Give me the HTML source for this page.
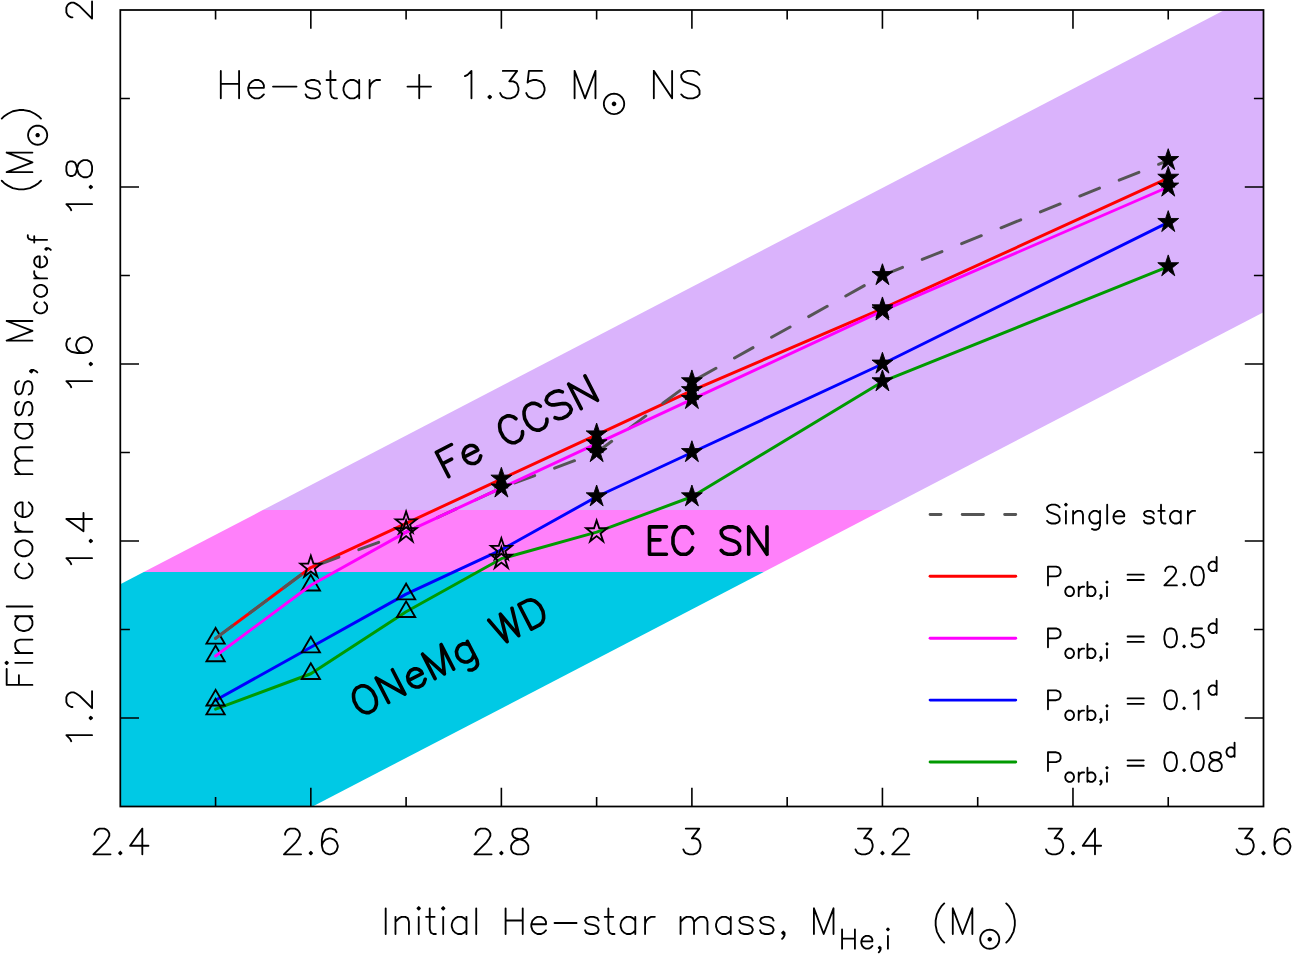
<!DOCTYPE html>
<html lang="en"><head><meta charset="utf-8"><title>Final core mass vs initial He-star mass</title>
<style>
html,body{margin:0;padding:0;background:#fff;}
body{width:1293px;height:955px;overflow:hidden;font-family:"Liberation Sans",sans-serif;}
svg{display:block;}
.t,.b,.ln{fill:none;stroke-linecap:round;stroke-linejoin:round;}
.t{stroke:#000;stroke-width:1.85;}
.b{stroke:#000;stroke-width:3.6;}
.ln{stroke-width:2.95;}
.h{font-family:"Liberation Sans",sans-serif;fill:#000;fill-opacity:0;stroke:none;}
</style></head><body>
<svg width="1293" height="955" viewBox="0 0 1293 955" role="img" aria-label="Final core mass versus initial He-star mass">
<rect width="1293" height="955" fill="#fff"/>
<polygon points="262.8,510.1 1224.5,10 1263.5,10 1263.5,312.2 882.79,510.1" fill="#dab3fc"/>
<polygon points="143.76,572 262.8,510.1 882.79,510.1 763.71,572" fill="#ff80fa"/>
<polygon points="120.3,584.2 143.76,572 763.71,572 312.6,806.5 120.3,806.5" fill="#00c9e5"/>
<g id="lines-a">
<polyline class="ln" points="215.57,700.3 310.83,647.2 406.1,594.1 501.37,549.85 596.63,496.75 691.9,452.5 882.43,364 1168.23,222.4" stroke="#0000ff"/>
<polyline class="ln" points="215.57,709.15 310.83,673.75 406.1,611.8 501.37,558.7 596.63,532.15 691.9,496.75 882.43,381.7 1168.23,266.65" stroke="#009a00"/>
</g>
<g id="markers-wd">
<polygon points="215.57,627.91 206.43,643.57 224.71,643.57" fill="none" stroke="#000" stroke-width="1.85" stroke-linejoin="miter" stroke-miterlimit="6"/>
<polygon points="215.57,645.61 206.43,661.27 224.71,661.27" fill="none" stroke="#000" stroke-width="1.85" stroke-linejoin="miter" stroke-miterlimit="6"/>
<polygon points="310.83,574.81 301.69,590.47 319.97,590.47" fill="none" stroke="#000" stroke-width="1.85" stroke-linejoin="miter" stroke-miterlimit="6"/>
<polygon points="215.57,689.86 206.43,705.52 224.71,705.52" fill="none" stroke="#000" stroke-width="1.85" stroke-linejoin="miter" stroke-miterlimit="6"/>
<polygon points="310.83,636.76 301.69,652.42 319.97,652.42" fill="none" stroke="#000" stroke-width="1.85" stroke-linejoin="miter" stroke-miterlimit="6"/>
<polygon points="406.1,583.66 396.96,599.32 415.24,599.32" fill="none" stroke="#000" stroke-width="1.85" stroke-linejoin="miter" stroke-miterlimit="6"/>
<polygon points="215.57,698.71 206.43,714.37 224.71,714.37" fill="none" stroke="#000" stroke-width="1.85" stroke-linejoin="miter" stroke-miterlimit="6"/>
<polygon points="310.83,663.31 301.69,678.97 319.97,678.97" fill="none" stroke="#000" stroke-width="1.85" stroke-linejoin="miter" stroke-miterlimit="6"/>
<polygon points="406.1,601.36 396.96,617.02 415.24,617.02" fill="none" stroke="#000" stroke-width="1.85" stroke-linejoin="miter" stroke-miterlimit="6"/>
</g>
<g id="lines-b">
<polyline class="ln" points="215.57,638.35 310.83,567.55 406.1,523.3 501.37,479.05 596.63,434.8 691.9,390.55 882.43,308.69 1168.23,178.15" stroke="#ff0000"/>
<polyline class="ln" points="215.57,638.35 310.83,567.55 406.1,532.15 501.37,487.9 596.63,452.5 691.9,381.7 882.43,275.5 1168.23,160.45" stroke="#555555" stroke-dasharray="21.23 21.23"/>
<polyline class="ln" points="215.57,656.05 310.83,585.25 406.1,532.15 501.37,487.9 596.63,443.65 691.9,399.4 882.43,310.9 1168.23,187" stroke="#ff00ff"/>
</g>
<g id="markers-ecsn">
<polygon points="310.83,555.8 308.22,563.63 300.39,563.63 306.92,568.86 304.31,576.69 310.83,571.47 317.36,576.69 314.75,568.86 321.28,563.63 313.44,563.63" fill="none" stroke="#000" stroke-width="1.85" stroke-linejoin="miter" stroke-miterlimit="6"/>
<polygon points="406.1,511.55 403.49,519.38 395.66,519.38 402.18,524.61 399.57,532.44 406.1,527.22 412.63,532.44 410.02,524.61 416.54,519.38 408.71,519.38" fill="none" stroke="#000" stroke-width="1.85" stroke-linejoin="miter" stroke-miterlimit="6"/>
<polygon points="406.1,520.4 403.49,528.23 395.66,528.23 402.18,533.46 399.57,541.29 406.1,536.07 412.63,541.29 410.02,533.46 416.54,528.23 408.71,528.23" fill="none" stroke="#000" stroke-width="1.85" stroke-linejoin="miter" stroke-miterlimit="6"/>
<polygon points="501.37,538.1 498.76,545.93 490.92,545.93 497.45,551.16 494.84,558.99 501.37,553.77 507.89,558.99 505.28,551.16 511.81,545.93 503.98,545.93" fill="none" stroke="#000" stroke-width="1.85" stroke-linejoin="miter" stroke-miterlimit="6"/>
<polygon points="501.37,546.95 498.76,554.78 490.92,554.78 497.45,560.01 494.84,567.84 501.37,562.62 507.89,567.84 505.28,560.01 511.81,554.78 503.98,554.78" fill="none" stroke="#000" stroke-width="1.85" stroke-linejoin="miter" stroke-miterlimit="6"/>
<polygon points="596.63,520.4 594.02,528.23 586.19,528.23 592.72,533.46 590.11,541.29 596.63,536.07 603.16,541.29 600.55,533.46 607.08,528.23 599.24,528.23" fill="none" stroke="#000" stroke-width="1.85" stroke-linejoin="miter" stroke-miterlimit="6"/>
</g>
<g id="markers-ccsn">
<polygon points="501.37,467.3 498.76,475.13 490.92,475.13 497.45,480.36 494.84,488.19 501.37,482.97 507.89,488.19 505.28,480.36 511.81,475.13 503.98,475.13" fill="#000" stroke="#000" stroke-width="0.9" stroke-linejoin="miter"/>
<polygon points="596.63,423.05 594.02,430.88 586.19,430.88 592.72,436.11 590.11,443.94 596.63,438.72 603.16,443.94 600.55,436.11 607.08,430.88 599.24,430.88" fill="#000" stroke="#000" stroke-width="0.9" stroke-linejoin="miter"/>
<polygon points="691.9,378.8 689.29,386.63 681.46,386.63 687.98,391.86 685.37,399.69 691.9,394.47 698.43,399.69 695.82,391.86 702.34,386.63 694.51,386.63" fill="#000" stroke="#000" stroke-width="0.9" stroke-linejoin="miter"/>
<polygon points="882.43,296.94 879.82,304.77 871.99,304.77 878.52,309.99 875.91,317.83 882.43,312.6 888.96,317.83 886.35,309.99 892.88,304.77 885.04,304.77" fill="#000" stroke="#000" stroke-width="0.9" stroke-linejoin="miter"/>
<polygon points="1168.23,166.4 1165.62,174.23 1157.79,174.23 1164.32,179.46 1161.71,187.29 1168.23,182.07 1174.76,187.29 1172.15,179.46 1178.68,174.23 1170.84,174.23" fill="#000" stroke="#000" stroke-width="0.9" stroke-linejoin="miter"/>
<polygon points="501.37,476.15 498.76,483.98 490.92,483.98 497.45,489.21 494.84,497.04 501.37,491.82 507.89,497.04 505.28,489.21 511.81,483.98 503.98,483.98" fill="#000" stroke="#000" stroke-width="0.9" stroke-linejoin="miter"/>
<polygon points="596.63,440.75 594.02,448.58 586.19,448.58 592.72,453.81 590.11,461.64 596.63,456.42 603.16,461.64 600.55,453.81 607.08,448.58 599.24,448.58" fill="#000" stroke="#000" stroke-width="0.9" stroke-linejoin="miter"/>
<polygon points="691.9,369.95 689.29,377.78 681.46,377.78 687.98,383.01 685.37,390.84 691.9,385.62 698.43,390.84 695.82,383.01 702.34,377.78 694.51,377.78" fill="#000" stroke="#000" stroke-width="0.9" stroke-linejoin="miter"/>
<polygon points="882.43,263.75 879.82,271.58 871.99,271.58 878.52,276.81 875.91,284.64 882.43,279.42 888.96,284.64 886.35,276.81 892.88,271.58 885.04,271.58" fill="#000" stroke="#000" stroke-width="0.9" stroke-linejoin="miter"/>
<polygon points="1168.23,148.7 1165.62,156.53 1157.79,156.53 1164.32,161.76 1161.71,169.59 1168.23,164.37 1174.76,169.59 1172.15,161.76 1178.68,156.53 1170.84,156.53" fill="#000" stroke="#000" stroke-width="0.9" stroke-linejoin="miter"/>
<polygon points="596.63,431.9 594.02,439.73 586.19,439.73 592.72,444.96 590.11,452.79 596.63,447.57 603.16,452.79 600.55,444.96 607.08,439.73 599.24,439.73" fill="#000" stroke="#000" stroke-width="0.9" stroke-linejoin="miter"/>
<polygon points="691.9,387.65 689.29,395.48 681.46,395.48 687.98,400.71 685.37,408.54 691.9,403.32 698.43,408.54 695.82,400.71 702.34,395.48 694.51,395.48" fill="#000" stroke="#000" stroke-width="0.9" stroke-linejoin="miter"/>
<polygon points="882.43,299.15 879.82,306.98 871.99,306.98 878.52,312.21 875.91,320.04 882.43,314.82 888.96,320.04 886.35,312.21 892.88,306.98 885.04,306.98" fill="#000" stroke="#000" stroke-width="0.9" stroke-linejoin="miter"/>
<polygon points="1168.23,175.25 1165.62,183.08 1157.79,183.08 1164.32,188.31 1161.71,196.14 1168.23,190.92 1174.76,196.14 1172.15,188.31 1178.68,183.08 1170.84,183.08" fill="#000" stroke="#000" stroke-width="0.9" stroke-linejoin="miter"/>
<polygon points="596.63,485 594.02,492.83 586.19,492.83 592.72,498.06 590.11,505.89 596.63,500.67 603.16,505.89 600.55,498.06 607.08,492.83 599.24,492.83" fill="#000" stroke="#000" stroke-width="0.9" stroke-linejoin="miter"/>
<polygon points="691.9,440.75 689.29,448.58 681.46,448.58 687.98,453.81 685.37,461.64 691.9,456.42 698.43,461.64 695.82,453.81 702.34,448.58 694.51,448.58" fill="#000" stroke="#000" stroke-width="0.9" stroke-linejoin="miter"/>
<polygon points="882.43,352.25 879.82,360.08 871.99,360.08 878.52,365.31 875.91,373.14 882.43,367.92 888.96,373.14 886.35,365.31 892.88,360.08 885.04,360.08" fill="#000" stroke="#000" stroke-width="0.9" stroke-linejoin="miter"/>
<polygon points="1168.23,210.65 1165.62,218.48 1157.79,218.48 1164.32,223.71 1161.71,231.54 1168.23,226.32 1174.76,231.54 1172.15,223.71 1178.68,218.48 1170.84,218.48" fill="#000" stroke="#000" stroke-width="0.9" stroke-linejoin="miter"/>
<polygon points="691.9,485 689.29,492.83 681.46,492.83 687.98,498.06 685.37,505.89 691.9,500.67 698.43,505.89 695.82,498.06 702.34,492.83 694.51,492.83" fill="#000" stroke="#000" stroke-width="0.9" stroke-linejoin="miter"/>
<polygon points="882.43,369.95 879.82,377.78 871.99,377.78 878.52,383.01 875.91,390.84 882.43,385.62 888.96,390.84 886.35,383.01 892.88,377.78 885.04,377.78" fill="#000" stroke="#000" stroke-width="0.9" stroke-linejoin="miter"/>
<polygon points="1168.23,254.9 1165.62,262.73 1157.79,262.73 1164.32,267.96 1161.71,275.79 1168.23,270.57 1174.76,275.79 1172.15,267.96 1178.68,262.73 1170.84,262.73" fill="#000" stroke="#000" stroke-width="0.9" stroke-linejoin="miter"/>
</g>
<path d="M215.57 806.5V796.9M215.57 10V19.6M310.83 806.5V787.8M310.83 10V28.7M406.1 806.5V796.9M406.1 10V19.6M501.37 806.5V787.8M501.37 10V28.7M596.63 806.5V796.9M596.63 10V19.6M691.9 806.5V787.8M691.9 10V28.7M787.17 806.5V796.9M787.17 10V19.6M882.43 806.5V787.8M882.43 10V28.7M977.7 806.5V796.9M977.7 10V19.6M1072.97 806.5V787.8M1072.97 10V28.7M1168.23 806.5V796.9M1168.23 10V19.6M120.3 718H139M1263.5 718H1244.8M120.3 629.5H129.9M1263.5 629.5H1253.9M120.3 541H139M1263.5 541H1244.8M120.3 452.5H129.9M1263.5 452.5H1253.9M120.3 364H139M1263.5 364H1244.8M120.3 275.5H129.9M1263.5 275.5H1253.9M120.3 187H139M1263.5 187H1244.8M120.3 98.5H129.9M1263.5 98.5H1253.9" fill="none" stroke="#000" stroke-width="1.6" stroke-linecap="butt"/>
<rect x="120.3" y="10" width="1143.2" height="796.5" fill="none" stroke="#000" stroke-width="1.75"/>
<g id="tick-labels">
<g aria-label="2.4"><path class="t" d="M94.61 834.72 L94.61 833.5 L95.83 831.05 L97.05 829.83 L99.5 828.61 L104.39 828.61 L106.84 829.83 L108.06 831.05 L109.29 833.5 L109.29 835.95 L108.06 838.39 L105.62 842.06 L93.38 854.3 L110.51 854.3M120.3 851.85 L119.08 853.08 L120.3 854.3 L121.52 853.08 L120.3 851.85M142.32 828.61 L130.09 845.74 L148.44 845.74M142.32 828.61 L142.32 854.3"/><text class="h" x="89.71" y="854.3" font-size="35.24">2.4</text></g>
<g aria-label="2.6"><path class="t" d="M285.14 834.72 L285.14 833.5 L286.36 831.05 L287.59 829.83 L290.03 828.61 L294.93 828.61 L297.37 829.83 L298.6 831.05 L299.82 833.5 L299.82 835.95 L298.6 838.39 L296.15 842.06 L283.92 854.3 L301.05 854.3M310.83 851.85 L309.61 853.08 L310.83 854.3 L312.06 853.08 L310.83 851.85M336.53 832.28 L335.3 829.83 L331.63 828.61 L329.19 828.61 L325.52 829.83 L323.07 833.5 L321.84 839.62 L321.84 845.74 L323.07 850.63 L325.52 853.08 L329.19 854.3 L330.41 854.3 L334.08 853.08 L336.53 850.63 L337.75 846.96 L337.75 845.74 L336.53 842.06 L334.08 839.62 L330.41 838.39 L329.19 838.39 L325.52 839.62 L323.07 842.06 L321.84 845.74"/><text class="h" x="280.25" y="854.3" font-size="35.24">2.6</text></g>
<g aria-label="2.8"><path class="t" d="M475.67 834.72 L475.67 833.5 L476.9 831.05 L478.12 829.83 L480.57 828.61 L485.46 828.61 L487.91 829.83 L489.13 831.05 L490.36 833.5 L490.36 835.95 L489.13 838.39 L486.68 842.06 L474.45 854.3 L491.58 854.3M501.37 851.85 L500.14 853.08 L501.37 854.3 L502.59 853.08 L501.37 851.85M517.27 828.61 L513.6 829.83 L512.38 832.28 L512.38 834.72 L513.6 837.17 L516.05 838.39 L520.94 839.62 L524.61 840.84 L527.06 843.29 L528.28 845.74 L528.28 849.41 L527.06 851.85 L525.84 853.08 L522.17 854.3 L517.27 854.3 L513.6 853.08 L512.38 851.85 L511.15 849.41 L511.15 845.74 L512.38 843.29 L514.83 840.84 L518.5 839.62 L523.39 838.39 L525.84 837.17 L527.06 834.72 L527.06 832.28 L525.84 829.83 L522.17 828.61 L517.27 828.61"/><text class="h" x="470.78" y="854.3" font-size="35.24">2.8</text></g>
<g aria-label="3"><path class="t" d="M685.78 828.61 L699.24 828.61 L691.9 838.39 L695.57 838.39 L698.02 839.62 L699.24 840.84 L700.46 844.51 L700.46 846.96 L699.24 850.63 L696.79 853.08 L693.12 854.3 L689.45 854.3 L685.78 853.08 L684.56 851.85 L683.34 849.41"/><text class="h" x="679.67" y="854.3" font-size="35.24">3</text></g>
<g aria-label="3.2"><path class="t" d="M857.96 828.61 L871.42 828.61 L864.08 838.39 L867.75 838.39 L870.2 839.62 L871.42 840.84 L872.65 844.51 L872.65 846.96 L871.42 850.63 L868.97 853.08 L865.3 854.3 L861.63 854.3 L857.96 853.08 L856.74 851.85 L855.52 849.41M882.43 851.85 L881.21 853.08 L882.43 854.3 L883.66 853.08 L882.43 851.85M893.44 834.72 L893.44 833.5 L894.67 831.05 L895.89 829.83 L898.34 828.61 L903.23 828.61 L905.68 829.83 L906.9 831.05 L908.13 833.5 L908.13 835.95 L906.9 838.39 L904.46 842.06 L892.22 854.3 L909.35 854.3"/><text class="h" x="851.85" y="854.3" font-size="35.24">3.2</text></g>
<g aria-label="3.4"><path class="t" d="M1048.5 828.61 L1061.96 828.61 L1054.61 838.39 L1058.28 838.39 L1060.73 839.62 L1061.96 840.84 L1063.18 844.51 L1063.18 846.96 L1061.96 850.63 L1059.51 853.08 L1055.84 854.3 L1052.17 854.3 L1048.5 853.08 L1047.27 851.85 L1046.05 849.41M1072.97 851.85 L1071.74 853.08 L1072.97 854.3 L1074.19 853.08 L1072.97 851.85M1094.99 828.61 L1082.75 845.74 L1101.11 845.74M1094.99 828.61 L1094.99 854.3"/><text class="h" x="1042.38" y="854.3" font-size="35.24">3.4</text></g>
<g aria-label="3.6"><path class="t" d="M1239.03 828.61 L1252.49 828.61 L1245.15 838.39 L1248.82 838.39 L1251.27 839.62 L1252.49 840.84 L1253.71 844.51 L1253.71 846.96 L1252.49 850.63 L1250.04 853.08 L1246.37 854.3 L1242.7 854.3 L1239.03 853.08 L1237.81 851.85 L1236.58 849.41M1263.5 851.85 L1262.28 853.08 L1263.5 854.3 L1264.72 853.08 L1263.5 851.85M1289.19 832.28 L1287.97 829.83 L1284.3 828.61 L1281.85 828.61 L1278.18 829.83 L1275.74 833.5 L1274.51 839.62 L1274.51 845.74 L1275.74 850.63 L1278.18 853.08 L1281.85 854.3 L1283.08 854.3 L1286.75 853.08 L1289.19 850.63 L1290.42 846.96 L1290.42 845.74 L1289.19 842.06 L1286.75 839.62 L1283.08 838.39 L1281.85 838.39 L1278.18 839.62 L1275.74 842.06 L1274.51 845.74"/><text class="h" x="1232.91" y="854.3" font-size="35.24">3.6</text></g>
<g aria-label="1.2"><path class="t" d="M71.25 741.25 L70.03 738.8 L66.36 735.13 L92.05 735.13M89.6 718 L90.83 719.22 L92.05 718 L90.83 716.78 L89.6 718M72.47 706.99 L71.25 706.99 L68.8 705.77 L67.58 704.54 L66.36 702.09 L66.36 697.2 L67.58 694.75 L68.8 693.53 L71.25 692.31 L73.7 692.31 L76.14 693.53 L79.81 695.98 L92.05 708.21 L92.05 691.08"/><text class="h" x="92.05" y="748.59" font-size="35.24" transform="rotate(-90 92.05 748.59)">1.2</text></g>
<g aria-label="1.4"><path class="t" d="M71.25 564.25 L70.03 561.8 L66.36 558.13 L92.05 558.13M89.6 541 L90.83 542.22 L92.05 541 L90.83 539.78 L89.6 541M66.36 518.98 L83.49 531.21 L83.49 512.86M66.36 518.98 L92.05 518.98"/><text class="h" x="92.05" y="571.59" font-size="35.24" transform="rotate(-90 92.05 571.59)">1.4</text></g>
<g aria-label="1.6"><path class="t" d="M71.25 387.25 L70.03 384.8 L66.36 381.13 L92.05 381.13M89.6 364 L90.83 365.22 L92.05 364 L90.83 362.78 L89.6 364M70.03 338.31 L67.58 339.53 L66.36 343.2 L66.36 345.65 L67.58 349.32 L71.25 351.76 L77.37 352.99 L83.49 352.99 L88.38 351.76 L90.83 349.32 L92.05 345.65 L92.05 344.42 L90.83 340.75 L88.38 338.31 L84.71 337.08 L83.49 337.08 L79.81 338.31 L77.37 340.75 L76.14 344.42 L76.14 345.65 L77.37 349.32 L79.81 351.76 L83.49 352.99"/><text class="h" x="92.05" y="394.59" font-size="35.24" transform="rotate(-90 92.05 394.59)">1.6</text></g>
<g aria-label="1.8"><path class="t" d="M71.25 210.25 L70.03 207.8 L66.36 204.13 L92.05 204.13M89.6 187 L90.83 188.22 L92.05 187 L90.83 185.78 L89.6 187M66.36 171.09 L67.58 174.77 L70.03 175.99 L72.47 175.99 L74.92 174.77 L76.14 172.32 L77.37 167.42 L78.59 163.75 L81.04 161.31 L83.49 160.08 L87.16 160.08 L89.6 161.31 L90.83 162.53 L92.05 166.2 L92.05 171.09 L90.83 174.77 L89.6 175.99 L87.16 177.21 L83.49 177.21 L81.04 175.99 L78.59 173.54 L77.37 169.87 L76.14 164.98 L74.92 162.53 L72.47 161.31 L70.03 161.31 L67.58 162.53 L66.36 166.2 L66.36 171.09"/><text class="h" x="92.05" y="217.59" font-size="35.24" transform="rotate(-90 92.05 217.59)">1.8</text></g>
<g aria-label="2"><path class="t" d="M72.47 17.34 L71.25 17.34 L68.8 16.12 L67.58 14.89 L66.36 12.45 L66.36 7.55 L67.58 5.11 L68.8 3.88 L71.25 2.66 L73.7 2.66 L76.14 3.88 L79.81 6.33 L92.05 18.56 L92.05 1.44"/><text class="h" x="92.05" y="22.24" font-size="35.24" transform="rotate(-90 92.05 22.24)">2</text></g>
</g>
<g id="axis-labels">
<g aria-label="Initial He-star mass, MHe,i (M⊙)"><path class="t" d="M385.69 908.31 L385.69 934M395.48 916.87 L395.48 934M395.48 921.76 L399.15 918.09 L401.6 916.87 L405.27 916.87 L407.72 918.09 L408.94 921.76 L408.94 934M417.5 908.31 L418.73 909.53 L419.95 908.31 L418.73 907.08 L417.5 908.31M418.73 916.87 L418.73 934M429.74 908.31 L429.74 929.11 L430.96 932.78 L433.41 934 L435.86 934M426.07 916.87 L434.63 916.87M441.98 908.31 L443.2 909.53 L444.42 908.31 L443.2 907.08 L441.98 908.31M443.2 916.87 L443.2 934M466.44 916.87 L466.44 934M466.44 920.54 L464 918.09 L461.55 916.87 L457.88 916.87 L455.43 918.09 L452.99 920.54 L451.76 924.21 L451.76 926.66 L452.99 930.33 L455.43 932.78 L457.88 934 L461.55 934 L464 932.78 L466.44 930.33M476.23 908.31 L476.23 934M505.6 908.31 L505.6 934M522.73 908.31 L522.73 934M505.6 920.54 L522.73 920.54M531.29 924.21 L545.97 924.21 L545.97 921.76 L544.75 919.32 L543.53 918.09 L541.08 916.87 L537.41 916.87 L534.96 918.09 L532.51 920.54 L531.29 924.21 L531.29 926.66 L532.51 930.33 L534.96 932.78 L537.41 934 L541.08 934 L543.53 932.78 L545.97 930.33M554.54 922.99 L576.56 922.99M598.58 920.54 L597.36 918.09 L593.69 916.87 L590.02 916.87 L586.35 918.09 L585.12 920.54 L586.35 922.99 L588.8 924.21 L594.91 925.44 L597.36 926.66 L598.58 929.11 L598.58 930.33 L597.36 932.78 L593.69 934 L590.02 934 L586.35 932.78 L585.12 930.33M608.37 908.31 L608.37 929.11 L609.59 932.78 L612.04 934 L614.49 934M604.7 916.87 L613.26 916.87M635.29 916.87 L635.29 934M635.29 920.54 L632.84 918.09 L630.39 916.87 L626.72 916.87 L624.28 918.09 L621.83 920.54 L620.61 924.21 L620.61 926.66 L621.83 930.33 L624.28 932.78 L626.72 934 L630.39 934 L632.84 932.78 L635.29 930.33M645.08 916.87 L645.08 934M645.08 924.21 L646.3 920.54 L648.75 918.09 L651.19 916.87 L654.86 916.87M680.56 916.87 L680.56 934M680.56 921.76 L684.23 918.09 L686.67 916.87 L690.35 916.87 L692.79 918.09 L694.02 921.76 L694.02 934M694.02 921.76 L697.69 918.09 L700.13 916.87 L703.8 916.87 L706.25 918.09 L707.47 921.76 L707.47 934M730.72 916.87 L730.72 934M730.72 920.54 L728.27 918.09 L725.83 916.87 L722.16 916.87 L719.71 918.09 L717.26 920.54 L716.04 924.21 L716.04 926.66 L717.26 930.33 L719.71 932.78 L722.16 934 L725.83 934 L728.27 932.78 L730.72 930.33M752.74 920.54 L751.52 918.09 L747.85 916.87 L744.18 916.87 L740.51 918.09 L739.29 920.54 L740.51 922.99 L742.96 924.21 L749.07 925.44 L751.52 926.66 L752.74 929.11 L752.74 930.33 L751.52 932.78 L747.85 934 L744.18 934 L740.51 932.78 L739.29 930.33M773.54 920.54 L772.32 918.09 L768.65 916.87 L764.98 916.87 L761.31 918.09 L760.09 920.54 L761.31 922.99 L763.76 924.21 L769.87 925.44 L772.32 926.66 L773.54 929.11 L773.54 930.33 L772.32 932.78 L768.65 934 L764.98 934 L761.31 932.78 L760.09 930.33M784.56 932.78 L783.33 934 L782.11 932.78 L783.33 931.55 L784.56 932.78 L784.56 935.22 L783.33 937.67 L782.11 938.89M813.92 908.31 L813.92 934M813.92 908.31 L823.71 934M833.5 908.31 L823.71 934M833.5 908.31 L833.5 934M842.06 929.41 L842.06 948.68M854.91 929.41 L854.91 948.68M842.06 938.59 L854.91 938.59M861.33 941.34 L872.34 941.34 L872.34 939.51 L871.42 937.67 L870.51 936.75 L868.67 935.84 L865.92 935.84 L864.08 936.75 L862.25 938.59 L861.33 941.34 L861.33 943.18 L862.25 945.93 L864.08 947.76 L865.92 948.68 L868.67 948.68 L870.51 947.76 L872.34 945.93M880.6 947.76 L879.68 948.68 L878.76 947.76 L879.68 946.85 L880.6 947.76 L880.6 949.6 L879.68 951.43 L878.76 952.35M887.02 929.41 L887.94 930.33 L888.86 929.41 L887.94 928.49 L887.02 929.41M887.94 935.84 L887.94 948.68M944.22 903.41 L941.77 905.86 L939.33 909.53 L936.88 914.42 L935.66 920.54 L935.66 925.44 L936.88 931.55 L939.33 936.45 L941.77 940.12 L944.22 942.56M952.79 908.31 L952.79 934M952.79 908.31 L962.57 934M972.36 908.31 L962.57 934M972.36 908.31 L972.36 934M999.28 939.23 L999.16 940.72 L998.81 942.18 L998.24 943.56 L997.46 944.84 L996.48 945.98 L995.35 946.95 L994.07 947.73 L992.68 948.31 L991.23 948.66 L989.74 948.77 L988.24 948.66 L986.79 948.31 L985.4 947.73 L984.13 946.95 L982.99 945.98 L982.02 944.84 L981.23 943.56 L980.66 942.18 L980.31 940.72 L980.19 939.23 L980.31 937.74 L980.66 936.28 L981.23 934.9 L982.02 933.62 L982.99 932.48 L984.13 931.51 L985.4 930.73 L986.79 930.15 L988.24 929.8 L989.74 929.69 L991.23 929.8 L992.68 930.15 L994.07 930.73 L995.35 931.51 L996.48 932.48 L997.46 933.62 L998.24 934.9 L998.81 936.28 L999.16 937.74 L999.28 939.23M991.02 939.23 L990.89 939.79 L990.54 940.23 L990.02 940.48 L989.45 940.48 L988.93 940.23 L988.58 939.79 L988.45 939.23 L988.58 938.67 L988.93 938.23 L989.45 937.98 L990.02 937.98 L990.54 938.23 L990.89 938.67 L991.02 939.23M990.19 939.23 L990.06 939.55 L989.74 939.69 L989.41 939.55 L989.28 939.23 L989.41 938.91 L989.74 938.77 L990.06 938.91 L990.19 939.23M1006.25 903.41 L1008.7 905.86 L1011.15 909.53 L1013.59 914.42 L1014.82 920.54 L1014.82 925.44 L1013.59 931.55 L1011.15 936.45 L1008.7 940.12 L1006.25 942.56"/><text class="h" x="380.8" y="934" font-size="35.24">Initial He-star mass, MHe,i (M⊙)</text></g>
<g aria-label="Final core mass, Mcore,f (M⊙)"><path class="t" d="M6.67 684.9 L32.4 684.9M6.67 684.9 L6.67 668.97M18.92 684.9 L18.92 675.1M6.67 664.07 L7.9 662.85 L6.67 661.62 L5.45 662.85 L6.67 664.07M15.25 662.85 L32.4 662.85M15.25 653.04 L32.4 653.04M20.15 653.04 L16.47 649.37 L15.25 646.92 L15.25 643.24 L16.47 640.79 L20.15 639.57 L32.4 639.57M15.25 616.29 L32.4 616.29M18.92 616.29 L16.47 618.74 L15.25 621.19 L15.25 624.86 L16.47 627.31 L18.92 629.77 L22.6 630.99 L25.05 630.99 L28.72 629.77 L31.17 627.31 L32.4 624.86 L32.4 621.19 L31.17 618.74 L28.72 616.29M6.67 606.49 L32.4 606.49M18.92 563.6 L16.47 566.05 L15.25 568.51 L15.25 572.18 L16.47 574.63 L18.92 577.08 L22.6 578.31 L25.05 578.31 L28.72 577.08 L31.17 574.63 L32.4 572.18 L32.4 568.51 L31.17 566.05 L28.72 563.6M15.25 550.13 L16.47 552.58 L18.92 555.03 L22.6 556.25 L25.05 556.25 L28.72 555.03 L31.17 552.58 L32.4 550.13 L32.4 546.45 L31.17 544 L28.72 541.55 L25.05 540.33 L22.6 540.33 L18.92 541.55 L16.47 544 L15.25 546.45 L15.25 550.13M15.25 531.75 L32.4 531.75M22.6 531.75 L18.92 530.52 L16.47 528.07 L15.25 525.62 L15.25 521.95M22.6 517.05 L22.6 502.34 L20.15 502.34 L17.7 503.57 L16.47 504.79 L15.25 507.25 L15.25 510.92 L16.47 513.37 L18.92 515.82 L22.6 517.05 L25.05 517.05 L28.72 515.82 L31.17 513.37 L32.4 510.92 L32.4 507.25 L31.17 504.79 L28.72 502.34M15.25 474.16 L32.4 474.16M20.15 474.16 L16.47 470.49 L15.25 468.04 L15.25 464.36 L16.47 461.91 L20.15 460.69 L32.4 460.69M20.15 460.69 L16.47 457.01 L15.25 454.56 L15.25 450.89 L16.47 448.44 L20.15 447.21 L32.4 447.21M15.25 423.93 L32.4 423.93M18.92 423.93 L16.47 426.38 L15.25 428.83 L15.25 432.51 L16.47 434.96 L18.92 437.41 L22.6 438.63 L25.05 438.63 L28.72 437.41 L31.17 434.96 L32.4 432.51 L32.4 428.83 L31.17 426.38 L28.72 423.93M18.92 401.88 L16.47 403.1 L15.25 406.78 L15.25 410.45 L16.47 414.13 L18.92 415.36 L21.37 414.13 L22.6 411.68 L23.82 405.55 L25.05 403.1 L27.5 401.88 L28.72 401.88 L31.17 403.1 L32.4 406.78 L32.4 410.45 L31.17 414.13 L28.72 415.36M18.92 381.05 L16.47 382.27 L15.25 385.95 L15.25 389.63 L16.47 393.3 L18.92 394.53 L21.37 393.3 L22.6 390.85 L23.82 384.73 L25.05 382.27 L27.5 381.05 L28.72 381.05 L31.17 382.27 L32.4 385.95 L32.4 389.63 L31.17 393.3 L28.72 394.53M31.17 370.02 L32.4 371.25 L31.17 372.47 L29.95 371.25 L31.17 370.02 L33.63 370.02 L36.08 371.25 L37.3 372.47M6.67 340.62 L32.4 340.62M6.67 340.62 L32.4 330.82M6.67 321.01 L32.4 330.82M6.67 321.01 L32.4 321.01M36.99 302.33 L35.16 304.17 L34.24 306.01 L34.24 308.76 L35.16 310.6 L36.99 312.44 L39.75 313.36 L41.59 313.36 L44.35 312.44 L46.18 310.6 L47.1 308.76 L47.1 306.01 L46.18 304.17 L44.35 302.33M34.24 292.22 L35.16 294.06 L36.99 295.9 L39.75 296.82 L41.59 296.82 L44.35 295.9 L46.18 294.06 L47.1 292.22 L47.1 289.47 L46.18 287.63 L44.35 285.79 L41.59 284.87 L39.75 284.87 L36.99 285.79 L35.16 287.63 L34.24 289.47 L34.24 292.22M34.24 278.44 L47.1 278.44M39.75 278.44 L36.99 277.52 L35.16 275.68 L34.24 273.84 L34.24 271.09M39.75 267.41 L39.75 256.39 L37.91 256.39 L36.08 257.3 L35.16 258.22 L34.24 260.06 L34.24 262.82 L35.16 264.66 L36.99 266.49 L39.75 267.41 L41.59 267.41 L44.35 266.49 L46.18 264.66 L47.1 262.82 L47.1 260.06 L46.18 258.22 L44.35 256.39M46.18 248.12 L47.1 249.03 L46.18 249.95 L45.26 249.03 L46.18 248.12 L48.02 248.12 L49.86 249.03 L50.78 249.95M27.81 235.25 L27.81 237.09 L28.72 238.93 L31.48 239.85 L47.1 239.85M34.24 242.6 L34.24 236.17M1.77 180.73 L4.22 183.18 L7.9 185.63 L12.8 188.08 L18.92 189.31 L23.82 189.31 L29.95 188.08 L34.85 185.63 L38.53 183.18 L40.98 180.73M6.67 172.15 L32.4 172.15M6.67 172.15 L32.4 162.35M6.67 152.55 L32.4 162.35M6.67 152.55 L32.4 152.55M37.64 125.6 L39.13 125.71 L40.59 126.06 L41.98 126.64 L43.25 127.42 L44.4 128.39 L45.37 129.53 L46.15 130.81 L46.73 132.2 L47.08 133.66 L47.19 135.15 L47.08 136.65 L46.73 138.11 L46.15 139.49 L45.37 140.77 L44.4 141.91 L43.25 142.88 L41.98 143.67 L40.59 144.24 L39.13 144.59 L37.64 144.71 L36.14 144.59 L34.68 144.24 L33.3 143.67 L32.02 142.88 L30.88 141.91 L29.91 140.77 L29.12 139.49 L28.55 138.11 L28.2 136.65 L28.08 135.15 L28.2 133.66 L28.55 132.2 L29.12 130.81 L29.91 129.53 L30.88 128.39 L32.02 127.42 L33.3 126.64 L34.68 126.06 L36.14 125.71 L37.64 125.6M37.64 133.87 L38.2 133.99 L38.64 134.35 L38.89 134.87 L38.89 135.44 L38.64 135.95 L38.2 136.31 L37.64 136.44 L37.08 136.31 L36.63 135.95 L36.38 135.44 L36.38 134.87 L36.63 134.35 L37.08 133.99 L37.64 133.87M37.64 134.69 L37.96 134.83 L38.1 135.15 L37.96 135.48 L37.64 135.61 L37.31 135.48 L37.18 135.15 L37.31 134.83 L37.64 134.69M1.77 118.61 L4.22 116.16 L7.9 113.71 L12.8 111.26 L18.92 110.04 L23.82 110.04 L29.95 111.26 L34.85 113.71 L38.53 116.16 L40.98 118.61"/><text class="h" x="32.4" y="689.8" font-size="35.29" transform="rotate(-90 32.4 689.8)">Final core mass, Mcore,f (M⊙)</text></g>
</g>
<g id="title">
<g aria-label="He-star + 1.35 M⊙ NS"><path class="t" d="M220.8 70.88 L220.8 98.3M239.08 70.88 L239.08 98.3M220.8 83.94 L239.08 83.94M248.22 87.86 L263.88 87.86 L263.88 85.24 L262.58 82.63 L261.27 81.33 L258.66 80.02 L254.75 80.02 L252.13 81.33 L249.52 83.94 L248.22 87.86 L248.22 90.47 L249.52 94.38 L252.13 96.99 L254.75 98.3 L258.66 98.3 L261.27 96.99 L263.88 94.38M273.02 86.55 L296.52 86.55M320.02 83.94 L318.71 81.33 L314.8 80.02 L310.88 80.02 L306.97 81.33 L305.66 83.94 L306.97 86.55 L309.58 87.86 L316.1 89.16 L318.71 90.47 L320.02 93.08 L320.02 94.38 L318.71 96.99 L314.8 98.3 L310.88 98.3 L306.97 96.99 L305.66 94.38M330.46 70.88 L330.46 93.08 L331.77 96.99 L334.38 98.3 L336.99 98.3M326.55 80.02 L335.69 80.02M359.19 80.02 L359.19 98.3M359.19 83.94 L356.57 81.33 L353.96 80.02 L350.05 80.02 L347.44 81.33 L344.82 83.94 L343.52 87.86 L343.52 90.47 L344.82 94.38 L347.44 96.99 L350.05 98.3 L353.96 98.3 L356.57 96.99 L359.19 94.38M369.63 80.02 L369.63 98.3M369.63 87.86 L370.93 83.94 L373.55 81.33 L376.16 80.02 L380.07 80.02M419.24 74.8 L419.24 98.3M407.49 86.55 L430.99 86.55M464.93 76.11 L467.54 74.8 L471.46 70.88 L471.46 98.3M489.74 95.69 L488.43 96.99 L489.74 98.3 L491.04 96.99 L489.74 95.69M502.79 70.88 L517.15 70.88 L509.32 81.33 L513.23 81.33 L515.85 82.63 L517.15 83.94 L518.46 87.86 L518.46 90.47 L517.15 94.38 L514.54 96.99 L510.62 98.3 L506.71 98.3 L502.79 96.99 L501.48 95.69 L500.18 93.08M541.96 70.88 L528.9 70.88 L527.59 82.63 L528.9 81.33 L532.82 80.02 L536.73 80.02 L540.65 81.33 L543.26 83.94 L544.57 87.86 L544.57 90.47 L543.26 94.38 L540.65 96.99 L536.73 98.3 L532.82 98.3 L528.9 96.99 L527.59 95.69 L526.29 93.08M574.59 70.88 L574.59 98.3M574.59 70.88 L585.04 98.3M595.48 70.88 L585.04 98.3M595.48 70.88 L595.48 98.3M624.2 103.88 L624.08 105.47 L623.7 107.03 L623.09 108.5 L622.26 109.87 L621.22 111.08 L620 112.12 L618.64 112.95 L617.17 113.57 L615.61 113.94 L614.02 114.06 L612.43 113.94 L610.87 113.57 L609.4 112.95 L608.03 112.12 L606.82 111.08 L605.78 109.87 L604.95 108.5 L604.33 107.03 L603.96 105.47 L603.84 103.88 L603.96 102.29 L604.33 100.73 L604.95 99.26 L605.78 97.9 L606.82 96.68 L608.03 95.64 L609.4 94.81 L610.87 94.2 L612.43 93.82 L614.02 93.7 L615.61 93.82 L617.17 94.2 L618.64 94.81 L620 95.64 L621.22 96.68 L622.26 97.9 L623.09 99.26 L623.7 100.73 L624.08 102.29 L624.2 103.88M615.39 103.88 L615.25 104.48 L614.87 104.95 L614.32 105.22 L613.71 105.22 L613.16 104.95 L612.78 104.48 L612.65 103.88 L612.78 103.29 L613.16 102.81 L613.71 102.54 L614.32 102.54 L614.87 102.81 L615.25 103.29 L615.39 103.88M614.51 103.88 L614.36 104.23 L614.02 104.37 L613.67 104.23 L613.53 103.88 L613.67 103.53 L614.02 103.39 L614.36 103.53 L614.51 103.88M653.84 70.88 L653.84 98.3M653.84 70.88 L672.11 98.3M672.11 70.88 L672.11 98.3M699.53 74.8 L696.92 72.19 L693 70.88 L687.78 70.88 L683.86 72.19 L681.25 74.8 L681.25 77.41 L682.56 80.02 L683.86 81.33 L686.47 82.63 L694.31 85.24 L696.92 86.55 L698.22 87.86 L699.53 90.47 L699.53 94.38 L696.92 96.99 L693 98.3 L687.78 98.3 L683.86 96.99 L681.25 94.38"/><text class="h" x="215.58" y="98.3" font-size="37.6">He-star + 1.35 M⊙ NS</text></g>
</g>
<g id="legend">
<path class="ln" d="M930.1 514.4H1015.7" stroke="#555555" stroke-dasharray="21.23 21.23" stroke-dashoffset="10.35"/>
<g aria-label="Single star"><path class="t" d="M1059.65 507.35 L1057.86 505.56 L1055.16 504.66 L1051.58 504.66 L1048.88 505.56 L1047.09 507.35 L1047.09 509.15 L1047.99 510.94 L1048.88 511.84 L1050.68 512.74 L1056.06 514.53 L1057.86 515.43 L1058.75 516.32 L1059.65 518.12 L1059.65 520.81 L1057.86 522.6 L1055.16 523.5 L1051.58 523.5 L1048.88 522.6 L1047.09 520.81M1065.03 504.66 L1065.93 505.56 L1066.83 504.66 L1065.93 503.77 L1065.03 504.66M1065.93 510.94 L1065.93 523.5M1073.1 510.94 L1073.1 523.5M1073.1 514.53 L1075.8 511.84 L1077.59 510.94 L1080.28 510.94 L1082.07 511.84 L1082.97 514.53 L1082.97 523.5M1100.01 510.94 L1100.01 525.29 L1099.12 527.99 L1098.22 528.88 L1096.43 529.78 L1093.74 529.78 L1091.94 528.88M1100.01 513.63 L1098.22 511.84 L1096.43 510.94 L1093.74 510.94 L1091.94 511.84 L1090.15 513.63 L1089.25 516.32 L1089.25 518.12 L1090.15 520.81 L1091.94 522.6 L1093.74 523.5 L1096.43 523.5 L1098.22 522.6 L1100.01 520.81M1107.19 504.66 L1107.19 523.5M1113.47 516.32 L1124.23 516.32 L1124.23 514.53 L1123.34 512.74 L1122.44 511.84 L1120.64 510.94 L1117.95 510.94 L1116.16 511.84 L1114.37 513.63 L1113.47 516.32 L1113.47 518.12 L1114.37 520.81 L1116.16 522.6 L1117.95 523.5 L1120.64 523.5 L1122.44 522.6 L1124.23 520.81M1153.83 513.63 L1152.94 511.84 L1150.25 510.94 L1147.56 510.94 L1144.86 511.84 L1143.97 513.63 L1144.86 515.43 L1146.66 516.32 L1151.14 517.22 L1152.94 518.12 L1153.83 519.91 L1153.83 520.81 L1152.94 522.6 L1150.25 523.5 L1147.56 523.5 L1144.86 522.6 L1143.97 520.81M1161.01 504.66 L1161.01 519.91 L1161.91 522.6 L1163.7 523.5 L1165.5 523.5M1158.32 510.94 L1164.6 510.94M1180.74 510.94 L1180.74 523.5M1180.74 513.63 L1178.95 511.84 L1177.16 510.94 L1174.47 510.94 L1172.67 511.84 L1170.88 513.63 L1169.98 516.32 L1169.98 518.12 L1170.88 520.81 L1172.67 522.6 L1174.47 523.5 L1177.16 523.5 L1178.95 522.6 L1180.74 520.81M1187.92 510.94 L1187.92 523.5M1187.92 516.32 L1188.82 513.63 L1190.61 511.84 L1192.41 510.94 L1195.1 510.94"/><text class="h" x="1044.4" y="523.5" font-size="25.83">Single star</text></g>
<path class="ln" d="M930.1 576.3H1015.7" stroke="#ff0000"/>
<g aria-label="Porb,i = 2.0d"><path class="t" d="M1047.99 566.56 L1047.99 585.4M1047.99 566.56 L1056.06 566.56 L1058.75 567.46 L1059.65 568.36 L1060.55 570.15 L1060.55 572.84 L1059.65 574.64 L1058.75 575.53 L1056.06 576.43 L1047.99 576.43M1068.62 586.75 L1067.27 587.42 L1065.93 588.76 L1065.26 590.78 L1065.26 592.13 L1065.93 594.15 L1067.27 595.49 L1068.62 596.16 L1070.64 596.16 L1071.98 595.49 L1073.33 594.15 L1074 592.13 L1074 590.78 L1073.33 588.76 L1071.98 587.42 L1070.64 586.75 L1068.62 586.75M1078.71 586.75 L1078.71 596.16M1078.71 590.78 L1079.38 588.76 L1080.73 587.42 L1082.07 586.75 L1084.09 586.75M1087.46 582.04 L1087.46 596.16M1087.46 588.76 L1088.8 587.42 L1090.15 586.75 L1092.17 586.75 L1093.51 587.42 L1094.86 588.76 L1095.53 590.78 L1095.53 592.13 L1094.86 594.15 L1093.51 595.49 L1092.17 596.16 L1090.15 596.16 L1088.8 595.49 L1087.46 594.15M1101.58 595.49 L1100.91 596.16 L1100.24 595.49 L1100.91 594.82 L1101.58 595.49 L1101.58 596.84 L1100.91 598.18 L1100.24 598.86M1106.29 582.04 L1106.97 582.71 L1107.64 582.04 L1106.97 581.36 L1106.29 582.04M1106.97 586.75 L1106.97 596.16M1127.6 574.64 L1143.74 574.64M1127.6 580.02 L1143.74 580.02M1165.27 571.05 L1165.27 570.15 L1166.17 568.36 L1167.06 567.46 L1168.86 566.56 L1172.45 566.56 L1174.24 567.46 L1175.14 568.36 L1176.03 570.15 L1176.03 571.94 L1175.14 573.74 L1173.34 576.43 L1164.37 585.4 L1176.93 585.4M1184.11 583.61 L1183.21 584.5 L1184.11 585.4 L1185 584.5 L1184.11 583.61M1196.67 566.56 L1193.97 567.46 L1192.18 570.15 L1191.28 574.64 L1191.28 577.33 L1192.18 581.81 L1193.97 584.5 L1196.67 585.4 L1198.46 585.4 L1201.15 584.5 L1202.94 581.81 L1203.84 577.33 L1203.84 574.64 L1202.94 570.15 L1201.15 567.46 L1198.46 566.56 L1196.67 566.56M1216.62 556.92 L1216.62 571.05M1216.62 563.65 L1215.28 562.3 L1213.93 561.63 L1211.91 561.63 L1210.57 562.3 L1209.22 563.65 L1208.55 565.67 L1208.55 567.01 L1209.22 569.03 L1210.57 570.38 L1211.91 571.05 L1213.93 571.05 L1215.28 570.38 L1216.62 569.03"/><text class="h" x="1044.4" y="585.4" font-size="25.83">Porb,i = 2.0d</text></g>
<path class="ln" d="M930.1 638.2H1015.7" stroke="#ff00ff"/>
<g aria-label="Porb,i = 0.5d"><path class="t" d="M1047.99 628.46 L1047.99 647.3M1047.99 628.46 L1056.06 628.46 L1058.75 629.36 L1059.65 630.26 L1060.55 632.05 L1060.55 634.74 L1059.65 636.54 L1058.75 637.43 L1056.06 638.33 L1047.99 638.33M1068.62 648.65 L1067.27 649.32 L1065.93 650.66 L1065.26 652.68 L1065.26 654.03 L1065.93 656.05 L1067.27 657.39 L1068.62 658.06 L1070.64 658.06 L1071.98 657.39 L1073.33 656.05 L1074 654.03 L1074 652.68 L1073.33 650.66 L1071.98 649.32 L1070.64 648.65 L1068.62 648.65M1078.71 648.65 L1078.71 658.06M1078.71 652.68 L1079.38 650.66 L1080.73 649.32 L1082.07 648.65 L1084.09 648.65M1087.46 643.94 L1087.46 658.06M1087.46 650.66 L1088.8 649.32 L1090.15 648.65 L1092.17 648.65 L1093.51 649.32 L1094.86 650.66 L1095.53 652.68 L1095.53 654.03 L1094.86 656.05 L1093.51 657.39 L1092.17 658.06 L1090.15 658.06 L1088.8 657.39 L1087.46 656.05M1101.58 657.39 L1100.91 658.06 L1100.24 657.39 L1100.91 656.72 L1101.58 657.39 L1101.58 658.74 L1100.91 660.08 L1100.24 660.76M1106.29 643.94 L1106.97 644.61 L1107.64 643.94 L1106.97 643.26 L1106.29 643.94M1106.97 648.65 L1106.97 658.06M1127.6 636.54 L1143.74 636.54M1127.6 641.92 L1143.74 641.92M1169.76 628.46 L1167.06 629.36 L1165.27 632.05 L1164.37 636.54 L1164.37 639.23 L1165.27 643.71 L1167.06 646.4 L1169.76 647.3 L1171.55 647.3 L1174.24 646.4 L1176.03 643.71 L1176.93 639.23 L1176.93 636.54 L1176.03 632.05 L1174.24 629.36 L1171.55 628.46 L1169.76 628.46M1184.11 645.51 L1183.21 646.4 L1184.11 647.3 L1185 646.4 L1184.11 645.51M1202.05 628.46 L1193.08 628.46 L1192.18 636.54 L1193.08 635.64 L1195.77 634.74 L1198.46 634.74 L1201.15 635.64 L1202.94 637.43 L1203.84 640.12 L1203.84 641.92 L1202.94 644.61 L1201.15 646.4 L1198.46 647.3 L1195.77 647.3 L1193.08 646.4 L1192.18 645.51 L1191.28 643.71M1216.62 618.82 L1216.62 632.95M1216.62 625.55 L1215.28 624.2 L1213.93 623.53 L1211.91 623.53 L1210.57 624.2 L1209.22 625.55 L1208.55 627.57 L1208.55 628.91 L1209.22 630.93 L1210.57 632.28 L1211.91 632.95 L1213.93 632.95 L1215.28 632.28 L1216.62 630.93"/><text class="h" x="1044.4" y="647.3" font-size="25.83">Porb,i = 0.5d</text></g>
<path class="ln" d="M930.1 700.1H1015.7" stroke="#0000ff"/>
<g aria-label="Porb,i = 0.1d"><path class="t" d="M1047.99 690.36 L1047.99 709.2M1047.99 690.36 L1056.06 690.36 L1058.75 691.26 L1059.65 692.16 L1060.55 693.95 L1060.55 696.64 L1059.65 698.44 L1058.75 699.33 L1056.06 700.23 L1047.99 700.23M1068.62 710.55 L1067.27 711.22 L1065.93 712.56 L1065.26 714.58 L1065.26 715.93 L1065.93 717.95 L1067.27 719.29 L1068.62 719.96 L1070.64 719.96 L1071.98 719.29 L1073.33 717.95 L1074 715.93 L1074 714.58 L1073.33 712.56 L1071.98 711.22 L1070.64 710.55 L1068.62 710.55M1078.71 710.55 L1078.71 719.96M1078.71 714.58 L1079.38 712.56 L1080.73 711.22 L1082.07 710.55 L1084.09 710.55M1087.46 705.84 L1087.46 719.96M1087.46 712.56 L1088.8 711.22 L1090.15 710.55 L1092.17 710.55 L1093.51 711.22 L1094.86 712.56 L1095.53 714.58 L1095.53 715.93 L1094.86 717.95 L1093.51 719.29 L1092.17 719.96 L1090.15 719.96 L1088.8 719.29 L1087.46 717.95M1101.58 719.29 L1100.91 719.96 L1100.24 719.29 L1100.91 718.62 L1101.58 719.29 L1101.58 720.64 L1100.91 721.98 L1100.24 722.66M1106.29 705.84 L1106.97 706.51 L1107.64 705.84 L1106.97 705.16 L1106.29 705.84M1106.97 710.55 L1106.97 719.96M1127.6 698.44 L1143.74 698.44M1127.6 703.82 L1143.74 703.82M1169.76 690.36 L1167.06 691.26 L1165.27 693.95 L1164.37 698.44 L1164.37 701.13 L1165.27 705.61 L1167.06 708.3 L1169.76 709.2 L1171.55 709.2 L1174.24 708.3 L1176.03 705.61 L1176.93 701.13 L1176.93 698.44 L1176.03 693.95 L1174.24 691.26 L1171.55 690.36 L1169.76 690.36M1184.11 707.41 L1183.21 708.3 L1184.11 709.2 L1185 708.3 L1184.11 707.41M1193.97 693.95 L1195.77 693.05 L1198.46 690.36 L1198.46 709.2M1216.62 680.72 L1216.62 694.85M1216.62 687.45 L1215.28 686.1 L1213.93 685.43 L1211.91 685.43 L1210.57 686.1 L1209.22 687.45 L1208.55 689.47 L1208.55 690.81 L1209.22 692.83 L1210.57 694.18 L1211.91 694.85 L1213.93 694.85 L1215.28 694.18 L1216.62 692.83"/><text class="h" x="1044.4" y="709.2" font-size="25.83">Porb,i = 0.1d</text></g>
<path class="ln" d="M930.1 762H1015.7" stroke="#009a00"/>
<g aria-label="Porb,i = 0.08d"><path class="t" d="M1047.99 752.26 L1047.99 771.1M1047.99 752.26 L1056.06 752.26 L1058.75 753.16 L1059.65 754.06 L1060.55 755.85 L1060.55 758.54 L1059.65 760.34 L1058.75 761.23 L1056.06 762.13 L1047.99 762.13M1068.62 772.45 L1067.27 773.12 L1065.93 774.46 L1065.26 776.48 L1065.26 777.83 L1065.93 779.85 L1067.27 781.19 L1068.62 781.86 L1070.64 781.86 L1071.98 781.19 L1073.33 779.85 L1074 777.83 L1074 776.48 L1073.33 774.46 L1071.98 773.12 L1070.64 772.45 L1068.62 772.45M1078.71 772.45 L1078.71 781.86M1078.71 776.48 L1079.38 774.46 L1080.73 773.12 L1082.07 772.45 L1084.09 772.45M1087.46 767.74 L1087.46 781.86M1087.46 774.46 L1088.8 773.12 L1090.15 772.45 L1092.17 772.45 L1093.51 773.12 L1094.86 774.46 L1095.53 776.48 L1095.53 777.83 L1094.86 779.85 L1093.51 781.19 L1092.17 781.86 L1090.15 781.86 L1088.8 781.19 L1087.46 779.85M1101.58 781.19 L1100.91 781.86 L1100.24 781.19 L1100.91 780.52 L1101.58 781.19 L1101.58 782.54 L1100.91 783.88 L1100.24 784.56M1106.29 767.74 L1106.97 768.41 L1107.64 767.74 L1106.97 767.06 L1106.29 767.74M1106.97 772.45 L1106.97 781.86M1127.6 760.34 L1143.74 760.34M1127.6 765.72 L1143.74 765.72M1169.76 752.26 L1167.06 753.16 L1165.27 755.85 L1164.37 760.34 L1164.37 763.03 L1165.27 767.51 L1167.06 770.2 L1169.76 771.1 L1171.55 771.1 L1174.24 770.2 L1176.03 767.51 L1176.93 763.03 L1176.93 760.34 L1176.03 755.85 L1174.24 753.16 L1171.55 752.26 L1169.76 752.26M1184.11 769.31 L1183.21 770.2 L1184.11 771.1 L1185 770.2 L1184.11 769.31M1196.67 752.26 L1193.97 753.16 L1192.18 755.85 L1191.28 760.34 L1191.28 763.03 L1192.18 767.51 L1193.97 770.2 L1196.67 771.1 L1198.46 771.1 L1201.15 770.2 L1202.94 767.51 L1203.84 763.03 L1203.84 760.34 L1202.94 755.85 L1201.15 753.16 L1198.46 752.26 L1196.67 752.26M1213.71 752.26 L1211.02 753.16 L1210.12 754.95 L1210.12 756.75 L1211.02 758.54 L1212.81 759.44 L1216.4 760.34 L1219.09 761.23 L1220.88 763.03 L1221.78 764.82 L1221.78 767.51 L1220.88 769.31 L1219.99 770.2 L1217.3 771.1 L1213.71 771.1 L1211.02 770.2 L1210.12 769.31 L1209.22 767.51 L1209.22 764.82 L1210.12 763.03 L1211.91 761.23 L1214.61 760.34 L1218.19 759.44 L1219.99 758.54 L1220.88 756.75 L1220.88 754.95 L1219.99 753.16 L1217.3 752.26 L1213.71 752.26M1234.56 742.62 L1234.56 756.75M1234.56 749.35 L1233.22 748 L1231.87 747.33 L1229.85 747.33 L1228.51 748 L1227.16 749.35 L1226.49 751.37 L1226.49 752.71 L1227.16 754.73 L1228.51 756.08 L1229.85 756.75 L1231.87 756.75 L1233.22 756.08 L1234.56 754.73"/><text class="h" x="1044.4" y="771.1" font-size="25.83">Porb,i = 0.08d</text></g>
</g>
<g id="region-labels">
<g aria-label="Fe CCSN"><path class="b" d="M436.32 452.28 L448.85 476.66M436.32 452.28 L451.41 444.52M442.29 463.89 L451.58 459.12M463.82 457.23 L477.75 450.07 L476.56 447.75 L474.2 446.02 L472.44 445.46 L469.53 445.49 L466.04 447.28 L464.32 449.63 L463.19 453.15 L463.82 457.23 L465.01 459.55 L467.96 462.44 L471.48 463.57 L474.4 463.53 L477.88 461.74 L479.61 459.39 L480.73 455.87M515.94 418.7 L513.58 416.97 L510.07 415.85 L507.15 415.88 L502.5 418.26 L500.78 420.62 L499.65 424.14 L499.68 427.05 L500.31 431.13 L503.3 436.94 L506.25 439.83 L508.6 441.55 L512.12 442.68 L515.04 442.65 L519.68 440.26 L521.41 437.91 L522.53 434.39 L522.5 431.47M540.32 406.17 L537.97 404.44 L534.45 403.31 L531.53 403.35 L526.89 405.73 L525.16 408.09 L524.03 411.6 L524.07 414.52 L524.7 418.6 L527.68 424.41 L530.63 427.3 L532.98 429.02 L536.5 430.15 L539.42 430.12 L544.06 427.73 L545.79 425.38 L546.92 421.86 L546.89 418.94M562.35 391.91 L558.84 390.78 L554.76 391.41 L550.11 393.8 L547.22 396.75 L546.1 400.27 L547.29 402.59 L549.64 404.31 L551.4 404.88 L554.32 404.85 L562.48 403.59 L565.4 403.55 L567.16 404.12 L569.51 405.84 L571.3 409.33 L570.17 412.84 L567.29 415.8 L562.64 418.18 L558.56 418.81 L555.05 417.68M568.69 384.25 L581.22 408.63M568.69 384.25 L597.48 400.28M584.94 375.9 L597.48 400.28"/><text class="h" x="444.21" y="479.05" font-size="37.6" transform="rotate(-27.2 444.21 479.05)">Fe CCSN</text></g>
<g aria-label="EC SN"><path class="b" d="M649.49 526.86 L649.49 554.28M649.49 526.86 L666.46 526.86M649.49 539.91 L659.93 539.91M649.49 554.28 L666.46 554.28M692.57 533.39 L691.26 530.78 L688.65 528.17 L686.04 526.86 L680.82 526.86 L678.21 528.17 L675.6 530.78 L674.29 533.39 L672.99 537.3 L672.99 543.83 L674.29 547.75 L675.6 550.36 L678.21 552.97 L680.82 554.28 L686.04 554.28 L688.65 552.97 L691.26 550.36 L692.57 547.75M739.57 530.78 L736.96 528.17 L733.04 526.86 L727.82 526.86 L723.9 528.17 L721.29 530.78 L721.29 533.39 L722.6 536 L723.9 537.3 L726.51 538.61 L734.35 541.22 L736.96 542.53 L738.26 543.83 L739.57 546.44 L739.57 550.36 L736.96 552.97 L733.04 554.28 L727.82 554.28 L723.9 552.97 L721.29 550.36M748.71 526.86 L748.71 554.28M748.71 526.86 L766.98 554.28M766.98 526.86 L766.98 554.28"/><text class="h" x="644.27" y="554.28" font-size="37.6">EC SN</text></g>
<g aria-label="ONeMg WD"><path class="b" d="M356.39 688.25 L354.66 690.6 L353.53 694.12 L353.56 697.03 L354.19 701.12 L357.18 706.92 L360.13 709.81 L362.48 711.53 L366 712.66 L368.92 712.63 L373.56 710.24 L375.29 707.89 L376.42 704.37 L376.38 701.45 L375.75 697.37 L372.77 691.57 L369.82 688.68 L367.46 686.96 L363.95 685.83 L361.03 685.86 L356.39 688.25M376.12 678.1 L388.66 702.48M376.12 678.1 L404.91 694.13M392.38 669.75 L404.91 694.13M408.27 680.66 L422.2 673.5 L421.01 671.18 L418.65 669.46 L416.89 668.89 L413.97 668.92 L410.49 670.71 L408.77 673.07 L407.64 676.58 L408.27 680.66 L409.46 682.99 L412.41 685.87 L415.93 687 L418.85 686.97 L422.33 685.18 L424.05 682.82 L425.18 679.31M422.57 654.23 L435.1 678.62M422.57 654.23 L444.39 673.84M441.15 644.68 L444.39 673.84M441.15 644.68 L453.68 669.07M467.39 641.47 L476.93 660.05 L477.56 664.13 L477 665.89 L475.27 668.24 L471.79 670.03 L468.87 670.07M469.18 644.96 L465.66 643.83 L462.74 643.86 L459.26 645.65 L457.53 648.01 L456.4 651.52 L457.03 655.6 L458.23 657.92 L461.18 660.81 L464.69 661.94 L467.61 661.91 L471.1 660.12 L472.82 657.76 L473.95 654.25M488.75 620.22 L507.09 641.62M500.37 614.25 L507.09 641.62M500.37 614.25 L518.7 635.65M511.98 608.28 L518.7 635.65M518.94 604.7 L531.48 629.09M518.94 604.7 L527.07 600.52 L531.15 599.9 L534.67 601.02 L537.02 602.75 L539.97 605.64 L542.96 611.44 L543.59 615.52 L543.62 618.44 L542.49 621.96 L539.6 624.91 L531.48 629.09"/><text class="h" x="358.47" y="718" font-size="37.6" transform="rotate(-27.2 358.47 718)">ONeMg WD</text></g>
</g>
</svg>
</body></html>
